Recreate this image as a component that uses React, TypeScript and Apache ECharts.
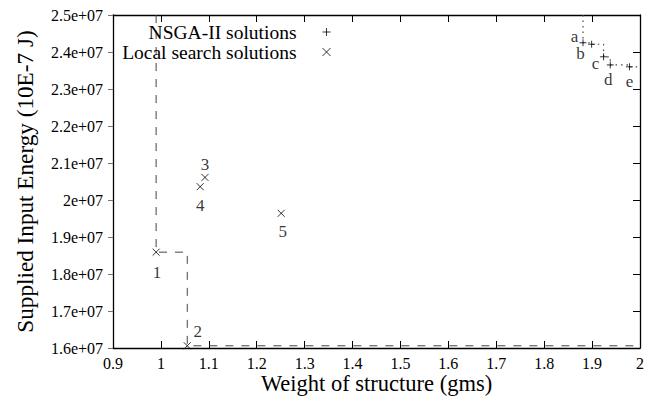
import React, { useEffect, useRef } from "react";
import * as echarts from "echarts";

// ---- data ----
const seriesNames = ["NSGA-II solutions", "Local search solutions"];

const nsgaWeight = [1.881, 1.899, 1.924, 1.938, 1.978];
const nsgaEnergy = [2.425e7, 2.421e7, 2.387e7, 2.365e7, 2.36e7];
const nsgaNames = ["a", "b", "c", "d", "e"];

const localWeight = [0.99, 1.055, 1.092, 1.082, 1.251];
const localEnergy = [1.859e7, 1.606e7, 2.061e7, 2.036e7, 1.964e7];
const localNames = ["1", "2", "3", "4", "5"];

const xMin = 0.9;
const xMax = 2.0;
const xStep = 0.1;
const yMin = 1.6e7;
const yMax = 2.5e7;
const yStep = 1e6;

// ---- styles (label placement) ----
const nsgaLabelOffsets = [
  [-8.5, -6.5],
  [-11, 9],
  [-8, 6.5],
  [-2, 14.5],
  [0, 14.5],
];
const localLabelOffsets = [
  [1, 20],
  [10.5, -14.5],
  [0, -13],
  [0, 19],
  [1.5, 18],
];

const FONT = "'Liberation Serif', 'Times New Roman', serif";
const plusPath = "path://M0,5L10,5M5,0L5,10";
const crossPath = "path://M0,0L10,10M10,0L0,10";

function paretoFront(xs: number[], ys: number[]): number[][] {
  const pts = xs.map((x, i) => [x, ys[i]]).sort((a, b) => a[0] - b[0]);
  const out: number[][] = [];
  let best = Infinity;
  for (const p of pts) {
    if (p[1] < best) {
      out.push(p);
      best = p[1];
    }
  }
  return out;
}

function stepData(xs: number[], ys: number[]): number[][] {
  const f = paretoFront(xs, ys);
  return [[f[0][0], yMax], ...f, [xMax, f[f.length - 1][1]]];
}

export default function App() {
  const ref = useRef<HTMLDivElement>(null);

  useEffect(() => {
    if (!ref.current) return;
    const chart = echarts.init(ref.current, undefined, { renderer: "svg" });

    const axisLine = { show: true, onZero: false, lineStyle: { color: "#000", width: 1.3 } };

    const option: any = {
      animation: false,
      backgroundColor: "#fff",
      textStyle: { fontFamily: FONT },
      grid: {
        left: 113,
        right: 14,
        top: 15,
        bottom: 50,
        containLabel: false,
        outerBoundsMode: "none",
      },
      legend: {
        data: seriesNames,
        orient: "vertical",
        align: "right",
        right: 323,
        top: 22,
        itemWidth: 8,
        itemHeight: 8,
        itemGap: 0,
        padding: 0,
        selectedMode: false,
        itemStyle: { color: "transparent", borderColor: "#000", borderWidth: 1 },
        textStyle: {
          fontSize: 19.5,
          fontFamily: FONT,
          color: "#000",
          lineHeight: 14,
          padding: [0, 21, 0, 0],
        },
      },
      xAxis: [
        {
          type: "value",
          min: xMin,
          max: xMax,
          interval: xStep,
          position: "bottom",
          axisLine,
          axisTick: { show: true, inside: true, length: 7, lineStyle: { color: "#000" } },
          axisLabel: {
            margin: 7,
            fontSize: 16,
            lineHeight: 16,
            fontFamily: FONT,
            color: "#000",
            formatter: (v: number) => String(Math.round(v * 10) / 10),
          },
          splitLine: { show: false },
          name: "Weight of structure (gms)",
          nameLocation: "middle",
          nameGap: 26,
          nameMoveOverlap: false,
          nameTextStyle: { fontSize: 22.5, lineHeight: 19, fontFamily: FONT, color: "#000" },
        },
        {
          type: "value",
          min: xMin,
          max: xMax,
          interval: xStep,
          position: "top",
          axisLine,
          axisTick: { show: true, inside: true, length: 7, lineStyle: { color: "#000" } },
          axisLabel: { show: false },
          splitLine: { show: false },
        },
      ],
      yAxis: [
        {
          type: "value",
          min: yMin,
          max: yMax,
          interval: yStep,
          position: "left",
          axisLine,
          axisTick: { show: true, inside: false, length: 5, lineStyle: { color: "#777" } },
          axisLabel: {
            margin: 10,
            fontSize: 16,
            fontFamily: FONT,
            color: "#000",
            formatter: (v: number) => `${Math.round(v / 1e6) / 10}e+07`,
          },
          splitLine: { show: false },
          name: "Supplied Input Energy (10E-7 J)",
          nameLocation: "middle",
          nameGap: 77,
          nameMoveOverlap: false,
          nameTextStyle: { fontSize: 23.2, fontFamily: FONT, color: "#000" },
        },
        {
          type: "value",
          min: yMin,
          max: yMax,
          interval: yStep,
          position: "right",
          axisLine,
          axisTick: { show: true, inside: true, length: 7, lineStyle: { color: "#000" } },
          axisLabel: { show: false },
          splitLine: { show: false },
        },
      ],
      series: [
        {
          name: "NSGA front",
          type: "line",
          step: "end",
          symbol: "none",
          silent: true,
          z: 1,
          data: stepData(nsgaWeight, nsgaEnergy),
          lineStyle: { color: "#444", width: 1.2, type: [1.5, 4] },
        },
        {
          name: "Local front",
          type: "line",
          step: "end",
          symbol: "none",
          silent: true,
          z: 1,
          data: stepData(localWeight, localEnergy),
          lineStyle: { color: "#444", width: 1, type: [8, 8] },
        },
        {
          name: seriesNames[0],
          type: "scatter",
          symbol: plusPath,
          symbolSize: 7,
          z: 3,
          itemStyle: { color: "transparent", borderColor: "#000", borderWidth: 1 },
          label: {
            show: true,
            position: "inside",
            fontSize: 17,
            fontFamily: FONT,
            color: "#000",
            formatter: (p: any) => p.name,
          },
          data: nsgaWeight.map((x, i) => ({
            name: nsgaNames[i],
            value: [x, nsgaEnergy[i]],
            label: { offset: nsgaLabelOffsets[i] },
          })),
        },
        {
          name: seriesNames[1],
          type: "scatter",
          symbol: crossPath,
          symbolSize: 7,
          z: 3,
          itemStyle: { color: "transparent", borderColor: "#000", borderWidth: 1 },
          label: {
            show: true,
            position: "inside",
            fontSize: 17,
            fontFamily: FONT,
            color: "#000",
            formatter: (p: any) => p.name,
          },
          data: localWeight.map((x, i) => ({
            name: localNames[i],
            value: [x, localEnergy[i]],
            label: { offset: localLabelOffsets[i] },
          })),
        },
      ],
    };

    chart.setOption(option);
    return () => chart.dispose();
  }, []);

  return (
    <div
      ref={ref}
      style={{ position: "fixed", left: 0, top: 0, width: 654, height: 398, background: "#fff" }}
    />
  );
}
